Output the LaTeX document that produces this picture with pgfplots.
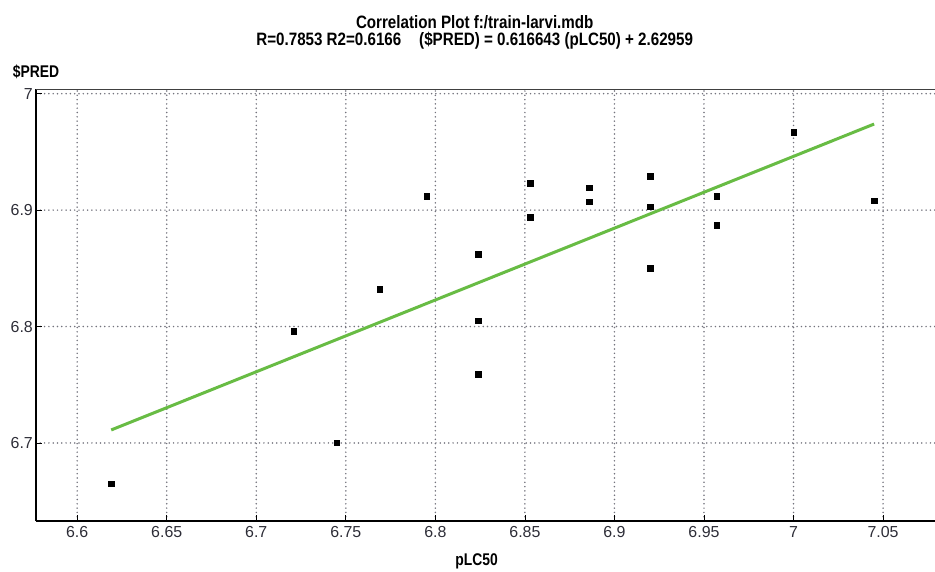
\documentclass[border=0pt]{standalone}
\usepackage{fontspec}
\setmainfont{Liberation Sans}
\newfontfamily\narrowfont[FakeStretch=0.82]{Liberation Sans}
\newfontfamily\titlefont[FakeStretch=0.845]{Liberation Sans}
\usepackage{pgfplots}
\pgfplotsset{compat=1.18}
\definecolor{fitgreen}{RGB}{104,188,68}
\definecolor{gridgray}{RGB}{115,115,125}
\definecolor{ticktext}{RGB}{45,45,55}

\begin{document}
\begin{tikzpicture}
\begin{axis}[
  scale only axis,
  width=899bp, height=432bp,
  xmin=6.577, xmax=7.079,
  ymin=6.633, ymax=7.004,
  xtick={6.6,6.65,6.7,6.75,6.8,6.85,6.9,6.95,7,7.05},
  xticklabels={6.6,6.65,6.7,6.75,6.8,6.85,6.9,6.95,7,7.05},
  ytick={6.7,6.8,6.9,7},
  yticklabels={6.7,6.8,6.9,7},
  axis lines=left,
  axis line style={-, line width=1.1pt, black},
  tick align=inside,
  major tick length=6bp,
  tick style={black, line width=0.8pt},
  ticklabel style={font=\fontsize{16}{18}\selectfont, text=ticktext},
  xticklabel style={yshift=-2bp},
  yticklabel style={inner xsep=1bp, xshift=-2bp},
  grid=major,
  grid style={gridgray, line width=1.7pt, line cap=round, dash pattern=on 0pt off 4.3bp},
  clip=false,
]
\addplot[only marks, mark=square*, mark size=2.7bp, black] coordinates {
  (6.619,6.665) (6.745,6.700) (6.721,6.796) (6.769,6.832)
  (6.795,6.912) (6.824,6.862) (6.824,6.805) (6.824,6.759)
  (6.853,6.923) (6.853,6.894) (6.886,6.919) (6.886,6.907)
  (6.920,6.929) (6.920,6.903) (6.920,6.850) (6.957,6.912)
  (6.957,6.887) (7.000,6.967) (7.045,6.908)
};
\addplot[fitgreen, line width=3bp, no marks] coordinates {
  (6.619,6.7112) (7.045,6.9739)
};
\draw[black!75, line width=0.8pt] (rel axis cs:0,1) -- (rel axis cs:1,1);
\coordinate (ll) at (rel axis cs:0,0);
\coordinate (ur) at (rel axis cs:1,1);
\node[font=\titlefont\bfseries\fontsize{18}{17}\selectfont, align=center, anchor=south, inner sep=0pt]
  at (rel axis cs:0.488,1) [yshift=40bp]
  {Correlation Plot f:/train-larvi.mdb\\R=0.7853 R2=0.6166\quad (\$PRED) = 0.616643 (pLC50) + 2.62959};
\node[font=\narrowfont\bfseries\fontsize{17}{20}\selectfont] at (rel axis cs:0,1) [yshift=17bp] {\$PRED};
\node[font=\narrowfont\bfseries\fontsize{17}{20}\selectfont] at (rel axis cs:0.49,0) [yshift=-40bp] {pLC50};
\end{axis}
\pgfresetboundingbox
\path[use as bounding box] ([xshift=-36bp,yshift=-50bp]ll) rectangle ([yshift=89bp]ur);
\end{tikzpicture}
\end{document}
